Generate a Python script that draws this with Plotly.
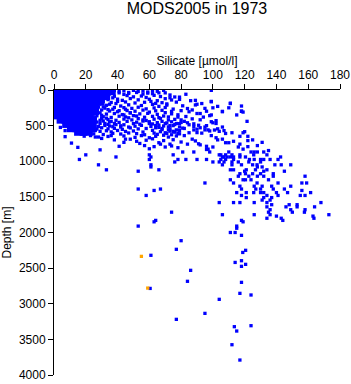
import plotly.graph_objects as go

# Dense core of the cloud (shallow, low silicate)
core_depth = [20, 90, 160, 230, 300, 360, 420, 480, 540, 590]
core_si = [
    [1.5, 5, 8.5, 12, 15.5, 19, 22.5, 26, 29.5, 33, 36.5],
    [1.5, 5, 8.5, 12, 15.5, 19, 22.5, 26, 29.5, 33],
    [1.5, 5, 8.5, 12, 15.5, 19, 22.5, 26, 29.5],
    [1.5, 5, 8.5, 12, 15.5, 19, 22.5, 26],
    [1.5, 5, 8.5, 12, 15.5, 19, 22.5, 26],
    [1.5, 5, 8.5, 12, 15.5, 19, 22.5],
    [4, 7, 10.5, 14, 17.5, 21, 24.5],
    [7.5, 11, 14.5, 18, 21, 24.5],
    [10.5, 14, 17.5, 21, 24.5],
    [15, 18.5, 22],
]

# Shallow scattered samples (depth < 900 m)
shallow_si = [
    23, 26, 29, 32, 35, 38, 41, 44, 47, 50, 53, 56, 59, 62, 65, 69, 99,
    21, 24, 28, 31, 35, 41, 44, 47, 52, 56, 59, 62, 66,
    22, 26, 30, 33, 38, 46, 50, 55, 58, 63, 67, 73, 76,
    21, 24, 29, 34, 40, 43, 48, 53, 60, 65, 70, 74, 79, 86, 89, 99, 111, 118,
    23, 27, 31, 36, 39, 45, 51, 57, 61, 64, 68, 71, 77, 93, 99,
    22, 25, 29, 33, 42, 47, 55, 62, 66, 71, 81, 89, 100, 111, 118,
    21, 24, 28, 32, 37, 44, 49, 53, 58, 63, 70, 75, 84, 87, 95, 106,
    23, 26, 30, 35, 40, 46, 51, 56, 60, 64, 68, 80, 85, 96, 106, 118, 119,
    22, 25, 29, 33, 38, 43, 48, 54, 59, 65, 70, 74, 78, 92, 99,
    21, 24, 27, 31, 36, 41, 45, 50, 57, 62, 66, 69, 72, 83, 98,
    22, 26, 30, 34, 39, 44, 49, 53, 58, 63, 67, 72, 76, 87, 92, 102,
    23, 27, 31, 35, 41, 46, 52, 56, 60, 65, 68, 71, 74, 77, 80, 82, 99, 100, 121.5,
    24, 29, 34, 38, 44, 50, 54, 62, 66, 70, 73, 76, 79, 85, 88, 91,
    25, 28, 32, 37, 42, 47, 51, 55, 61, 66, 69, 72, 75, 79, 82, 88, 95,
    4, 24, 27, 30, 34, 38, 43, 48, 53, 58, 64, 68, 73, 77, 81, 90, 97, 103,
    7, 26, 29, 33, 36, 40, 45, 50, 56, 62, 67, 70, 73, 76, 79, 90, 95, 98, 101, 104, 107, 120,
    18, 21, 25, 31, 37, 42, 47, 52, 57, 63, 65, 69, 71, 74, 79, 93, 108, 119,
    7, 19, 23, 28, 34, 44, 51, 55, 60, 64, 72, 77, 99, 102, 122,
    30, 38, 48, 58, 62, 69, 75, 87, 89, 103, 106, 113, 122,
    11, 44, 54, 66, 73, 80, 91, 92, 110, 117, 131,
    15, 41, 57, 63, 70, 74, 78, 96, 116, 122, 128,
    29, 60, 96, 97, 135,
]
shallow_depth = [
    10, 25, 5, 18, 30, 8, 22, 12, 35, 5, 20, 15, 28, 8, 18, 5, 5,
    50, 38, 60, 45, 55, 40, 62, 48, 35, 58, 44, 52, 40,
    80, 95, 72, 100, 88, 78, 96, 84, 105, 75, 92, 110, 98,
    125, 140, 118, 135, 128, 145, 120, 138, 130, 150, 122, 140, 132, 150, 145, 165, 185, 225,
    165, 180, 160, 175, 190, 168, 182, 172, 160, 188, 178, 195, 170, 190, 160,
    205, 220, 200, 215, 225, 208, 218, 202, 230, 212, 222, 210, 250, 190, 300,
    245, 262, 240, 255, 270, 248, 258, 242, 265, 252, 246, 268, 260, 280, 258, 300,
    285, 300, 280, 295, 305, 288, 298, 282, 310, 292, 285, 290, 305, 298, 305, 295, 310,
    325, 340, 320, 338, 330, 345, 322, 335, 328, 342, 318, 335, 348, 330, 350,
    365, 380, 362, 375, 385, 368, 378, 360, 382, 370, 388, 365, 378, 372, 360,
    405, 418, 400, 415, 425, 408, 420, 402, 428, 410, 400, 420, 412, 405, 418, 430,
    438, 450, 435, 448, 455, 440, 452, 436, 445, 458, 440, 462, 446, 470, 455, 440, 445, 460, 440,
    475, 468, 482, 470, 488, 472, 480, 476, 492, 470, 500, 485, 472, 488, 475, 495,
    505, 512, 498, 515, 502, 520, 508, 496, 510, 525, 505, 518, 500, 520, 540, 510, 520,
    525, 535, 548, 530, 545, 538, 552, 532, 546, 540, 530, 555, 545, 560, 535, 550, 560, 545,
    570, 565, 580, 572, 588, 568, 582, 575, 590, 566, 585, 600, 578, 592, 570, 598, 560, 575, 562, 580, 570, 585,
    620, 605, 615, 625, 608, 618, 603, 612, 628, 605, 622, 635, 610, 628, 615, 605, 610, 600,
    655, 648, 640, 660, 652, 645, 665, 640, 670, 650, 660, 645, 640, 670, 650,
    680, 700, 690, 705, 685, 710, 698, 690, 715, 700, 690, 720, 710,
    745, 735, 750, 740, 760, 730, 755, 770, 740, 760, 735,
    805, 790, 780, 795, 800, 785, 810, 790, 800, 795, 780,
    840, 825, 835, 830, 850,
]

# Additional shallow samples filling the band
extra_si = [25, 28, 31, 34, 27, 30, 33, 36, 39, 42, 37, 40, 35, 38, 41, 44, 47, 26,
            29, 32, 35, 45, 48, 52, 56, 60, 64, 68, 72, 75, 78, 82, 85, 88, 92, 96,
            80, 84, 78, 74, 90, 94, 102, 106, 112, 117, 108, 100, 84, 67, 52, 45,
            36, 26, 70, 73, 79, 83, 90, 103, 110, 115, 125, 119]
extra_depth = [110, 155, 235, 275, 320, 355, 395, 440, 485, 520, 110, 160, 200, 245,
               290, 350, 390, 390, 425, 470, 505, 270, 320, 365, 420, 470, 500, 540,
               560, 580, 610, 640, 600, 560, 530, 500, 420, 460, 380, 300, 330, 380,
               470, 520, 600, 650, 740, 800, 760, 760, 720, 690, 640, 660, 40, 70,
               100, 60, 200, 230, 250, 350, 700, 830]

# Deeper scattered samples, grouped by depth row
deep_depth = [870, 910, 940, 975, 1010, 1050, 1080, 1120, 1140, 1175, 1210, 1260,
              1305, 1350, 1390, 1410, 1440, 1480, 1510, 1545, 1580, 1610, 1640,
              1680, 1715, 1750, 1770, 1800, 1830, 1850, 1910, 1940, 2000, 2040,
              2115, 2236, 2250, 2280, 2320, 2396, 2420, 2447, 2475, 2531, 2685,
              2700, 2785, 2854, 2877, 2938, 3135, 3219, 3308, 3322, 3383, 3575, 3790]
deep_si = [
    [81, 88, 98, 110, 124, 126, 128, 132],
    [20, 60, 75, 104, 105, 108, 112, 117, 125.7, 134],
    [39, 61, 106, 107, 109, 111, 113, 117, 120.5, 142.6],
    [16, 60, 78, 83, 90, 96, 105, 108, 113, 123, 126, 130, 132, 136, 141],
    [76, 100, 104, 107, 112, 116, 122.6, 130],
    [28, 61, 106, 112, 118, 125, 127.8, 139, 143, 149],
    [61, 128, 131],
    [33, 66, 111, 113, 121, 126.8, 134],
    [53, 120, 132, 145],
    [117, 120.5, 125, 130, 138],
    [116, 122.6, 128, 132, 138, 158],
    [111, 119, 120.5, 124, 135],
    [95, 113, 127.8, 141, 156, 159],
    [117, 126, 131, 137, 149],
    [53, 67, 118, 127, 130, 138, 145],
    [63, 156],
    [115, 121, 125.7, 130, 132, 140, 147, 161.5],
    [58, 118, 134, 141, 155, 158],
    [121, 132, 137],
    [131, 136],
    [104, 113, 117, 126, 134, 168],
    [137, 148, 153],
    [134, 146, 153, 164],
    [136, 149, 158],
    [74, 135, 150, 157.6],
    [106, 126, 136, 173],
    [140, 163],
    [134, 143, 163.6],
    [64, 118, 144],
    [63, 119],
    [53, 115],
    [115],
    [111, 114],
    [118],
    [80],
    [77],
    [120.6],
    [118.8],
    [61],
    [118],
    [114],
    [120.6],
    [118],
    [86],
    [84],
    [118],
    [60.5],
    [117],
    [124],
    [104],
    [95],
    [77],
    [124],
    [113.5],
    [115],
    [112],
    [117],
]

# Second (orange) group
orange_si = [55, 59]
orange_depth = [2335, 2780]

x_ticks = [0, 20, 40, 60, 80, 100, 120, 140, 160, 180]
y_ticks = [0, 500, 1000, 1500, 2000, 2500, 3000, 3500, 4000]

BLUE = "#0000FF"
ORANGE = "#FFA500"

cx, cy = [], []
for d, row in zip(core_depth, core_si):
    for s in row:
        cx.append(s)
        cy.append(d)

sx = list(shallow_si) + list(extra_si)
sy = list(shallow_depth) + list(extra_depth)
for d, row in zip(deep_depth, deep_si):
    for s in row:
        sx.append(s)
        sy.append(d)

fig = go.Figure()
fig.add_trace(go.Scatter(x=cx, y=cy, mode="markers",
                         marker=dict(symbol="square", size=7.5, color=BLUE, opacity=1,
                                     line=dict(width=0))))
fig.add_trace(go.Scatter(x=sx, y=sy, mode="markers",
                         marker=dict(symbol="square", size=3.3, color=BLUE, opacity=1,
                                     line=dict(width=0))))
fig.add_trace(go.Scatter(x=orange_si, y=orange_depth, mode="markers",
                         marker=dict(symbol="square", size=3.3, color=ORANGE, opacity=1,
                                     line=dict(width=0))))

FONT = "Liberation Sans, Arial, Helvetica, sans-serif"
fig.update_layout(
    width=351, height=384,
    margin=dict(l=54, r=11, t=90, b=9),
    paper_bgcolor="white", plot_bgcolor="white",
    showlegend=False,
    font=dict(family=FONT, size=12, color="black"),
    title=dict(text="MODS2005 in 1973", font=dict(size=16, family=FONT, color="black"),
               x=0.5, xref="paper", xanchor="center",
               y=1 - 8 / 384, yref="container", yanchor="middle"),
)
fig.update_xaxes(
    side="top", range=[0, 180], tickvals=x_ticks, ticks="outside", ticklen=5,
    tickcolor="black", showline=True, linecolor="black", linewidth=1,
    showgrid=False, zeroline=False, tickfont=dict(size=12), automargin=False,
    title=dict(text="Silicate [µmol/l]", font=dict(size=12), standoff=0),
)
fig.update_yaxes(
    range=[4000, 0], tickvals=y_ticks, ticks="outside", ticklen=5,
    tickcolor="black", showline=True, linecolor="black", linewidth=1,
    showgrid=False, zeroline=False, tickfont=dict(size=12), automargin=False,
    title=dict(text="Depth [m]", font=dict(size=12), standoff=6),
)

fig.write_html("out.html")
